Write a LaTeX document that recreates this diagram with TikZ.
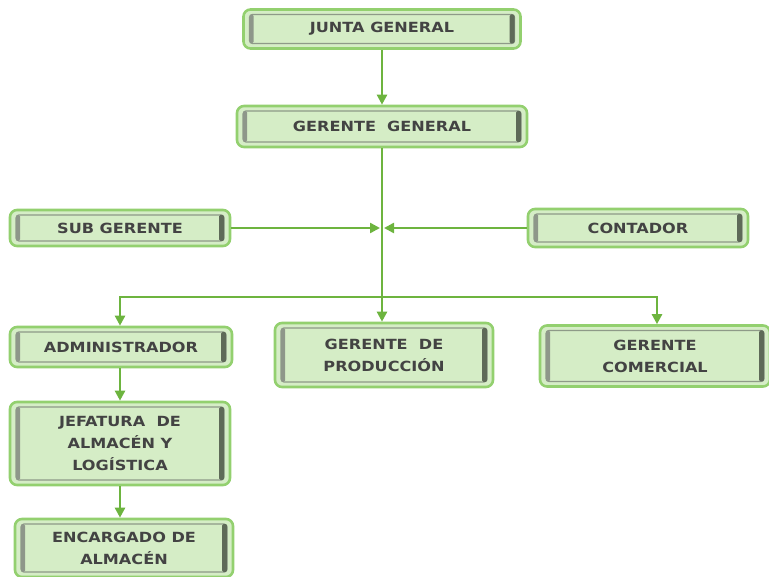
\documentclass[tikz,border=0pt]{standalone}
\usepackage{fontspec}
\usetikzlibrary{arrows.meta}
\newfontfamily\boxfont[FakeStretch=1.15]{DejaVu Sans Bold}
\definecolor{boxfill}{HTML}{D5EDC6}
\definecolor{boxedge}{HTML}{93D06F}
\definecolor{bevdark}{HTML}{5E6A58}
\definecolor{bevmid}{HTML}{8E9A88}
\definecolor{wire}{HTML}{6DB43F}
\definecolor{txt}{HTML}{434343}
\tikzset{
  orgbox/.style={draw=boxedge, line width=2.6pt, fill=boxfill, rounded corners=7pt,
    text=txt, font=\boxfont\fontsize{14}{22}\selectfont, align=center, inner sep=0pt,
    path picture={
      \draw[bevmid, line width=1.2pt, rounded corners=3pt]
        ([shift={(6pt,-5pt)}]path picture bounding box.north west) rectangle
        ([shift={(-6pt,5pt)}]path picture bounding box.south east);
      \fill[bevdark!70, rounded corners=1.5pt]
        ([shift={(6pt,-5pt)}]path picture bounding box.north west) rectangle
        ([shift={(10pt,5pt)}]path picture bounding box.south west);
      \fill[bevdark, rounded corners=1.5pt]
        ([shift={(-11pt,-5pt)}]path picture bounding box.north east) rectangle
        ([shift={(-6pt,5pt)}]path picture bounding box.south east);
    }},
  wireline/.style={draw=wire, line width=2.4pt},
  arr/.style={wireline, -{Triangle[length=10pt,width=10pt]}}
}
\begin{document}
\begin{tikzpicture}[x=1pt,y=-1pt]
\useasboundingbox (0,0) rectangle (769,577);

\node[orgbox, minimum width=277pt, minimum height=39pt] (junta) at (382,29) {JUNTA GENERAL};
\node[orgbox, minimum width=290pt, minimum height=41pt] (gg) at (382,126.5) {GERENTE\ \ GENERAL};
\node[orgbox, minimum width=220pt, minimum height=36pt] (sub) at (120,228) {SUB GERENTE};
\node[orgbox, minimum width=220pt, minimum height=38pt] (cont) at (638,228) {CONTADOR};
\node[orgbox, minimum width=222pt, minimum height=40pt] (admin) at (121,347) {ADMINISTRADOR};
\node[orgbox, minimum width=218pt, minimum height=64pt] (prod) at (384,355) {GERENTE\ \ DE\\PRODUCCIÓN};
\node[orgbox, minimum width=230pt, minimum height=61pt] (com) at (655,356) {GERENTE\\COMERCIAL};
\node[orgbox, minimum width=220pt, minimum height=83pt] (jef) at (120,443.5) {JEFATURA\ \ DE\\ALMACÉN Y\\LOGÍSTICA};
\node[orgbox, minimum width=218pt, minimum height=58pt] (enc) at (124,548) {ENCARGADO DE\\ALMACÉN};

\coordinate (bus) at (382,297);
\coordinate (midjoin) at (382,228);

\draw[arr] (junta.south -| gg.north) -- (gg.north);
\draw[arr] (gg.south) -- (prod.north -| gg.south);
\draw[arr] (bus) -| (admin.north -| 120,0);
\draw[arr] (bus) -| (com.north -| 657,0);
\draw[arr] (sub.east) -- ([xshift=-2pt]midjoin);
\draw[arr] (cont.west) -- ([xshift=2pt]midjoin);
\draw[arr] (admin.south -| 120,0) -- (jef.north -| 120,0);
\draw[arr] (jef.south -| 120,0) -- (enc.north -| 120,0);
\end{tikzpicture}
\end{document}
